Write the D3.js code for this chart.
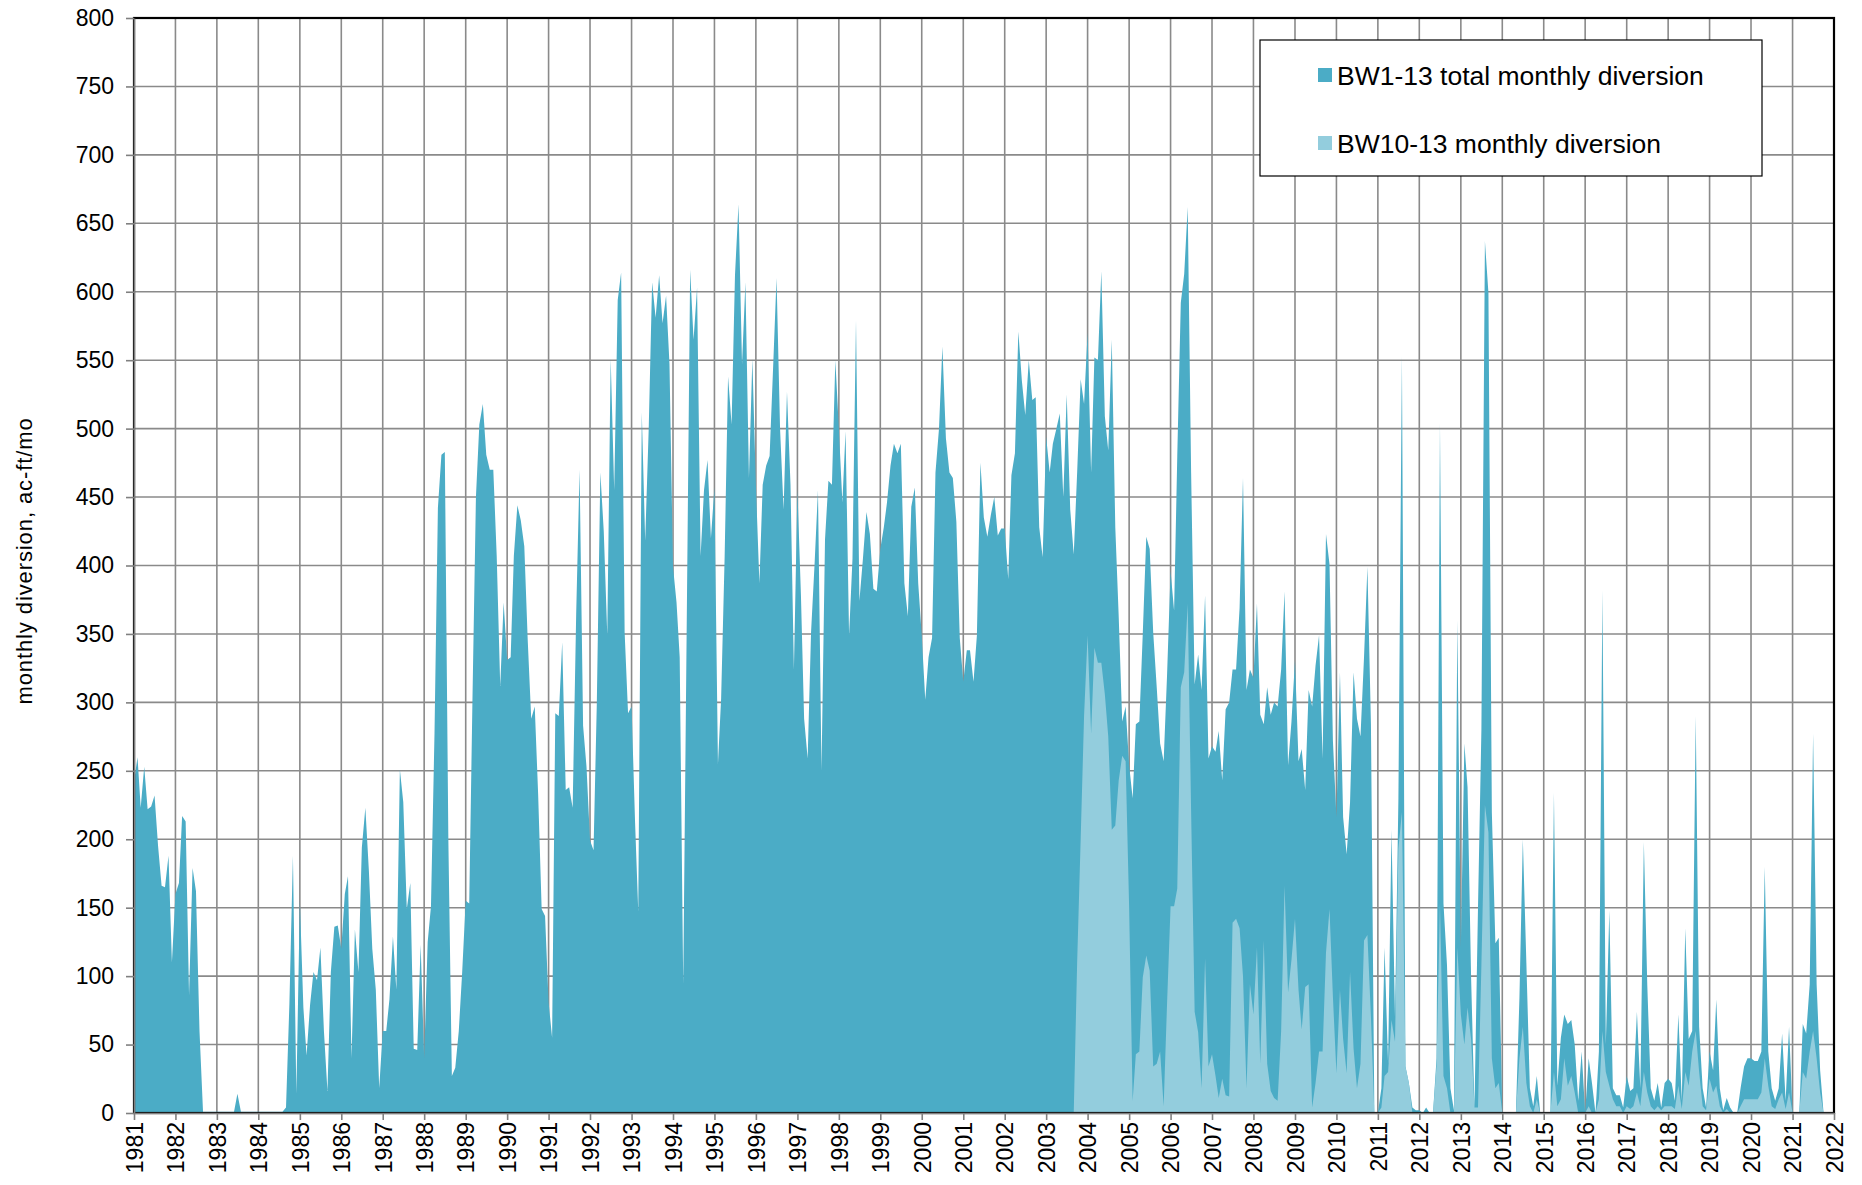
<!DOCTYPE html>
<html>
<head>
<meta charset="utf-8">
<script src="https://cdn.jsdelivr.net/npm/d3@7"></script>
<style>
  body { margin: 0; background: #fff; }
  svg { display: block; font-family: "Liberation Sans", Arial, sans-serif; }
  .grid line { stroke: #8a8a8a; stroke-width: 1.6; }
  .axis path, .axis line { stroke: #808080; stroke-width: 1.6; }
  .axis text { font-size: 23px; fill: #000; }
</style>
</head>
<body>
<svg width="1862" height="1185"></svg>
<script>
// series names
var seriesNames = ["BW1-13 total monthly diversion", "BW10-13 monthly diversion"];

// y ticks
var yTicks = d3.range(0, 801, 50);

// year labels on the x axis
var yearLabels = d3.range(1981, 2023);

// BW1-13 total, one row per year (Jan..Dec), 1981-2021
var firstYear = 1981;
var totalByYear = [
  [242, 260, 223, 253, 222, 224, 232, 195, 166, 165, 188, 110], // 1981
  [160, 168, 217, 213, 86, 179, 162, 60, 1, 1, 1, 1],
  [1, 1, 1, 1, 1, 1, 14, 1, 1, 1, 1, 1],
  [1, 1, 1, 1, 1, 1, 1, 1, 4, 80, 188, 14],
  [155, 77, 42, 79, 103, 97, 121, 60, 16, 103, 136, 137], // 1985
  [120, 160, 173, 40, 134, 103, 194, 223, 177, 120, 90, 18],
  [60, 60, 83, 129, 90, 251, 227, 149, 168, 47, 46, 123],
  [40, 125, 151, 277, 442, 481, 483, 200, 27, 33, 60, 103],
  [155, 153, 300, 450, 503, 518, 481, 470, 470, 407, 312, 373],
  [331, 333, 407, 444, 433, 414, 346, 288, 297, 233, 149, 144], // 1990
  [81, 55, 292, 290, 344, 236, 238, 223, 364, 470, 283, 253],
  [199, 192, 300, 468, 425, 349, 551, 455, 594, 614, 351, 292],
  [297, 212, 147, 512, 418, 500, 607, 581, 612, 577, 597, 547],
  [399, 373, 333, 94, 350, 616, 565, 603, 407, 455, 477, 420],
  [457, 255, 303, 407, 538, 503, 612, 664, 547, 607, 464, 551], // 1995
  [459, 387, 459, 473, 480, 545, 610, 500, 441, 527, 459, 324],
  [455, 378, 288, 259, 351, 401, 455, 250, 419, 462, 459, 550],
  [500, 446, 498, 349, 405, 579, 374, 405, 439, 423, 383, 381],
  [412, 428, 446, 473, 489, 482, 489, 387, 363, 443, 457, 387],
  [349, 302, 333, 347, 468, 500, 560, 493, 468, 464, 432, 347], // 2000
  [315, 338, 338, 315, 349, 475, 435, 421, 437, 450, 422, 427],
  [427, 390, 466, 482, 571, 535, 510, 550, 521, 523, 428, 406],
  [494, 468, 489, 500, 511, 450, 525, 441, 408, 468, 536, 518],
  [570, 468, 552, 550, 615, 509, 484, 565, 428, 363, 286, 297],
  [254, 230, 284, 286, 350, 421, 412, 351, 311, 270, 257, 320], // 2005
  [396, 367, 480, 592, 613, 662, 468, 313, 335, 309, 378, 259],
  [268, 264, 279, 243, 295, 300, 324, 324, 369, 464, 309, 324],
  [318, 372, 291, 284, 311, 291, 300, 297, 324, 381, 254, 286],
  [331, 257, 266, 236, 309, 297, 327, 349, 259, 423, 401, 272],
  [216, 322, 216, 189, 227, 322, 288, 275, 333, 399, 284, 0], // 2010
  [0, 18, 121, 36, 207, 70, 230, 553, 34, 22, 4, 2],
  [2, 0, 4, 0, 0, 40, 504, 153, 108, 18, 2, 360],
  [121, 270, 238, 100, 4, 150, 280, 637, 599, 220, 124, 128],
  [0, 0, 0, 0, 0, 84, 200, 110, 18, 5, 27, 0],
  [0, 0, 0, 234, 20, 55, 72, 65, 68, 50, 9, 45], // 2015
  [0, 40, 22, 0, 45, 382, 50, 148, 18, 13, 13, 4],
  [27, 16, 18, 74, 18, 198, 94, 18, 9, 22, 4, 22],
  [25, 22, 9, 72, 9, 135, 54, 60, 290, 63, 18, 4],
  [45, 31, 83, 18, 2, 11, 4, 0, 0, 18, 34, 40],
  [40, 38, 38, 45, 180, 45, 18, 9, 18, 58, 9, 63], // 2020
  [0, 0, 0, 65, 58, 94, 277, 94, 31, 0, 0, 0]
];

// BW10-13, one row per year, 2003-2021
var subsetFirstYear = 2003;
var subsetByYear = [
  [0, 0, 0, 0, 0, 0, 0, 0, 0, 110, 200, 290], // 2003
  [349, 277, 340, 329, 329, 306, 275, 207, 210, 243, 261, 257],
  [150, 9, 43, 45, 99, 115, 104, 34, 36, 45, 5, 80], // 2005
  [151, 151, 164, 311, 322, 372, 220, 74, 59, 18, 113, 34],
  [43, 27, 11, 25, 13, 12, 139, 142, 135, 100, 18, 94],
  [72, 121, 36, 126, 36, 16, 11, 9, 60, 166, 88, 112],
  [142, 90, 61, 92, 94, 4, 22, 45, 45, 117, 149, 85],
  [29, 90, 54, 29, 103, 47, 18, 36, 126, 130, 70, 0], // 2010
  [0, 4, 27, 30, 68, 52, 193, 220, 34, 22, 0, 0],
  [0, 0, 0, 0, 0, 35, 153, 27, 18, 0, 0, 121],
  [72, 50, 77, 54, 4, 4, 108, 225, 205, 40, 18, 22],
  [0, 0, 0, 0, 0, 40, 63, 22, 5, 0, 10, 0],
  [0, 0, 0, 30, 5, 10, 40, 20, 27, 15, 0, 0], // 2015
  [0, 5, 0, 0, 10, 60, 30, 20, 10, 5, 5, 0],
  [5, 3, 5, 15, 5, 30, 15, 5, 2, 5, 2, 5],
  [5, 5, 3, 20, 3, 30, 20, 45, 60, 30, 5, 2],
  [25, 15, 20, 5, 0, 3, 0, 0, 0, 5, 10, 10],
  [10, 10, 10, 15, 40, 20, 5, 3, 10, 15, 3, 15], // 2020
  [0, 0, 0, 30, 25, 45, 60, 40, 15, 0, 0, 0]
];

var colors = ["#4BACC6", "#93CDDD"];

var svg = d3.select("svg"),
    margin = { top: 18, right: 28, bottom: 72, left: 134 },
    width = +svg.attr("width") - margin.left - margin.right,
    height = +svg.attr("height") - margin.top - margin.bottom;

// flatten year rows into monthly points
function toMonthly(rows, startYear) {
  var out = [];
  rows.forEach(function (row, i) {
    row.forEach(function (v, m) {
      out.push({ date: new Date(startYear + i, m, 1), value: v });
    });
  });
  return out;
}
var total = toMonthly(totalByYear, firstYear);
var subset = toMonthly(subsetByYear, subsetFirstYear);

var x = d3.scaleTime()
    .domain([new Date(yearLabels[0], 0, 1), new Date(yearLabels[yearLabels.length - 1], 0, 1)])
    .range([0, width]);
var y = d3.scaleLinear().domain([0, 800]).range([height, 0]);

var area = d3.area()
    .x(function (d) { return x(d.date); })
    .y0(height)
    .y1(function (d) { return y(d.value); });

svg.append("rect").attr("width", 1862).attr("height", 1185).attr("fill", "#fff");

var g = svg.append("g").attr("transform", "translate(" + margin.left + "," + margin.top + ")");

// gridlines
var yearDates = yearLabels.map(function (yr) { return new Date(yr, 0, 1); });
g.append("g").attr("class", "grid")
  .selectAll("line").data(yearDates).enter().append("line")
  .attr("x1", function (d) { return x(d); }).attr("x2", function (d) { return x(d); })
  .attr("y1", 0).attr("y2", height);
g.append("g").attr("class", "grid")
  .selectAll("line").data(yTicks).enter().append("line")
  .attr("x1", 0).attr("x2", width)
  .attr("y1", function (d) { return y(d); }).attr("y2", function (d) { return y(d); });

// areas: total behind, subset in front
g.append("path").datum(total).attr("fill", colors[0]).attr("d", area);
g.append("path").datum(subset).attr("fill", colors[1]).attr("d", area);

// plot border (top/right show as black)
g.append("rect").attr("width", width).attr("height", height)
  .attr("fill", "none").attr("stroke", "#000").attr("stroke-width", 2.2);

// axes
var yAxis = g.append("g").attr("class", "axis")
  .call(d3.axisLeft(y).tickValues(yTicks).tickSize(8).tickPadding(12).tickSizeOuter(0));

var xAxis = g.append("g").attr("class", "axis")
  .attr("transform", "translate(0," + height + ")")
  .call(d3.axisBottom(x).tickValues(yearDates).tickFormat(d3.timeFormat("%Y")).tickSize(7).tickSizeOuter(0));
xAxis.selectAll("text")
  .attr("transform", "rotate(-90)")
  .attr("x", -9).attr("y", 0).attr("dy", "0.36em")
  .style("text-anchor", "end");

// y axis title
svg.append("text")
  .attr("transform", "translate(24,561) rotate(-90)")
  .attr("text-anchor", "middle")
  .attr("dy", "0.35em")
  .style("font-size", "22px")
  .style("letter-spacing", "0.9px")
  .text("monthly diversion, ac-ft/mo");

// legend
var legend = svg.append("g").attr("transform", "translate(1260,40)");
legend.append("rect").attr("width", 502).attr("height", 136)
  .attr("fill", "#fff").attr("stroke", "#000").attr("stroke-width", 1.2);
var item = legend.selectAll(".item").data(seriesNames).enter().append("g")
  .attr("transform", function (d, i) { return "translate(58," + (35 + i * 68) + ")"; });
item.append("rect").attr("x", 0).attr("y", -7).attr("width", 14).attr("height", 14)
  .attr("fill", function (d, i) { return colors[i]; });
item.append("text").attr("x", 19).attr("dy", "0.36em")
  .style("font-size", "26.5px")
  .text(function (d) { return d; });
</script>
</body>
</html>
